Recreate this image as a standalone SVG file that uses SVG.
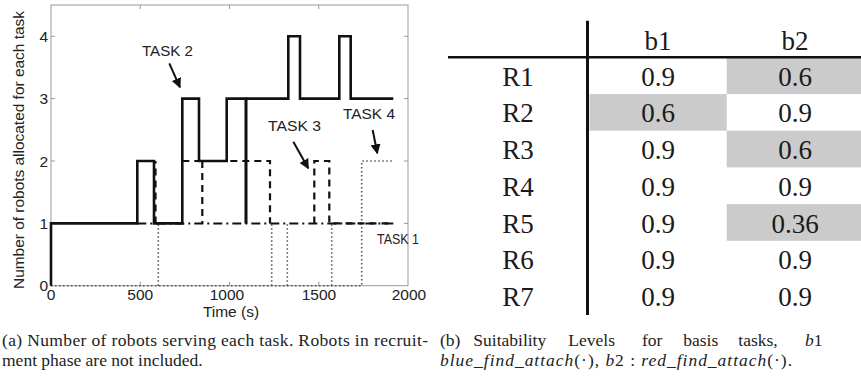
<svg xmlns="http://www.w3.org/2000/svg" width="861" height="377" viewBox="0 0 861 377">
<style>
.ax{font-family:"Liberation Sans",Arial,sans-serif;font-size:15.5px;fill:#222}
.tb{font-family:"Liberation Serif","Times New Roman",serif;font-size:27px;fill:#1a1a1a;text-anchor:middle}
.cap{font-family:"Liberation Serif","Times New Roman",serif;font-size:17.5px;fill:#222}
.frame{fill:none;stroke:#999;stroke-width:1}
.solid{fill:none;stroke:#111;stroke-width:2.6;stroke-linejoin:miter}
.dash{fill:none;stroke:#111;stroke-width:2.2;stroke-dasharray:7,5}
.dashdot{fill:none;stroke:#111;stroke-width:2;stroke-dasharray:9,4,2,4}
.dot{fill:none;stroke:#555;stroke-width:1.6;stroke-dasharray:1.5,2.5}
.arr{fill:none;stroke:#111;stroke-width:2;marker-end:url(#ah)}
.cell{fill:#cbcbcb}
</style>
<defs>
<marker id="ah" viewBox="0 0 10 10" refX="9" refY="5" markerWidth="5" markerHeight="5" orient="auto" markerUnits="strokeWidth">
<path d="M0,0 L10,5 L0,10 z" fill="#111"/>
</marker>
</defs>
<rect width="861" height="377" fill="#fff"/>

<g id="plot">
<rect class="frame" x="51" y="5" width="357" height="280.7"/>
<g stroke="#999" stroke-width="1">
<path d="M140.25,285.7v-4M229.5,285.7v-4M318.75,285.7v-4M140.25,5v4M229.5,5v4M318.75,5v4"/>
<path d="M51,223.4h4M51,161h4M51,98.6h4M51,36.3h4M408,223.4h-4M408,161h-4M408,98.6h-4M408,36.3h-4"/>
</g>
<g class="ax" text-anchor="end">
<text x="48" y="291">0</text>
<text x="48" y="229">1</text>
<text x="48" y="166.5">2</text>
<text x="48" y="104">3</text>
<text x="48" y="42">4</text>
</g>
<g class="ax" text-anchor="middle">
<text x="51" y="300">0</text>
<text x="140.25" y="300">500</text>
<text x="227" y="300">1000</text>
<text x="319" y="300">1500</text>
<text x="409" y="300">2000</text>
<text x="231" y="317">Time (s)</text>
</g>
<text class="ax" text-anchor="middle" transform="translate(23.5,150) rotate(-90)" textLength="278" lengthAdjust="spacingAndGlyphs">Number of robots allocated for each task</text>
</g>

<g id="series">
<path class="dot" d="M51,285.7H361.7V161H393.3M158.3,285.7V223.4M271.7,285.7V223.4M287.3,285.7V223.4M331.7,285.7V223.4"/>
<path class="dashdot" d="M137.3,223.4H393.3"/>
<path class="dash" d="M155.5,223.4V161M182.3,161H270V223.4M202.3,161V223.4M314.3,223.4V161H329.3V223.4H393.3"/>
<path class="solid" d="M51,285.7V223.4H137.3V161H154V223.4H182.3V98.6H199V161H226.7V98.6H246V223.4"/>
<path class="solid" stroke-width="3.4" d="M246,223.4V98.6"/>
<path class="solid" d="M246,98.6H288.3V36.3H300V98.6H339.3V36.3H350.7V98.6H393.3"/>
</g>

<g id="labels">
<text class="ax" x="142" y="56" textLength="51" lengthAdjust="spacingAndGlyphs">TASK 2</text>
<text class="ax" x="268" y="130.5" textLength="53" lengthAdjust="spacingAndGlyphs">TASK 3</text>
<text class="ax" x="343" y="119" textLength="52" lengthAdjust="spacingAndGlyphs">TASK 4</text>
<text class="ax" x="377" y="244" textLength="42" lengthAdjust="spacingAndGlyphs">TASK 1</text>
</g>

<g id="connectors">
<line class="arr" x1="169.3" y1="63.3" x2="180" y2="87.3"/>
<line class="arr" x1="293.3" y1="141.7" x2="308.3" y2="168.3"/>
<line class="arr" x1="372.7" y1="130" x2="377.3" y2="153.3"/>
</g>

<g id="table">
<rect class="cell" x="726.7" y="57.3" width="134.3" height="36.7"/>
<rect class="cell" x="589.5" y="94" width="137.2" height="36.7"/>
<rect class="cell" x="726.7" y="130.7" width="134.3" height="36.7"/>
<rect class="cell" x="726.7" y="204.1" width="134.3" height="36.7"/>
<line x1="448" y1="57.3" x2="861" y2="57.3" stroke="#111" stroke-width="2.5"/>
<line x1="587.5" y1="20.7" x2="587.5" y2="315" stroke="#111" stroke-width="3"/>
<text class="tb" x="658" y="50">b1</text>
<text class="tb" x="795" y="50">b2</text>
<g>
<text class="tb" x="518" y="85.7">R1</text><text class="tb" x="658" y="85.7">0.9</text><text class="tb" x="795" y="85.7">0.6</text>
<text class="tb" x="518" y="122.4">R2</text><text class="tb" x="658" y="122.4">0.6</text><text class="tb" x="795" y="122.4">0.9</text>
<text class="tb" x="518" y="159.1">R3</text><text class="tb" x="658" y="159.1">0.9</text><text class="tb" x="795" y="159.1">0.6</text>
<text class="tb" x="518" y="195.8">R4</text><text class="tb" x="658" y="195.8">0.9</text><text class="tb" x="795" y="195.8">0.9</text>
<text class="tb" x="518" y="232.5">R5</text><text class="tb" x="658" y="232.5">0.9</text><text class="tb" x="795" y="232.5">0.36</text>
<text class="tb" x="518" y="269.2">R6</text><text class="tb" x="658" y="269.2">0.9</text><text class="tb" x="795" y="269.2">0.9</text>
<text class="tb" x="518" y="305.9">R7</text><text class="tb" x="658" y="305.9">0.9</text><text class="tb" x="795" y="305.9">0.9</text>
</g>
</g>

<g id="captions">
<text class="cap" x="2" y="346" textLength="426" lengthAdjust="spacing">(a) Number of robots serving each task.  Robots in recruit-</text>
<text class="cap" x="2" y="366">ment phase are not included.</text>
<text class="cap" y="346"><tspan x="440">(b)</tspan><tspan x="473.3">Suitability</tspan><tspan x="568.3">Levels</tspan><tspan x="642">for</tspan><tspan x="683.3">basis</tspan><tspan x="738.3">tasks,</tspan><tspan x="805" font-style="italic">b</tspan><tspan>1</tspan></text>
<text class="cap" x="440" y="366" textLength="352" lengthAdjust="spacing"><tspan font-style="italic">blue_find_attach</tspan>(·), <tspan font-style="italic">b</tspan>2 : <tspan font-style="italic">red_find_attach</tspan>(·).</text>
</g>
</svg>
